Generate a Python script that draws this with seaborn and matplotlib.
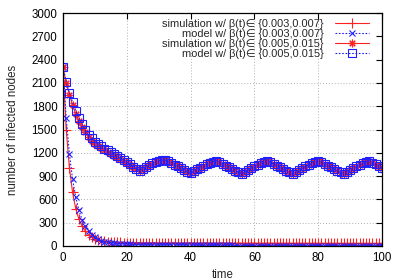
import matplotlib
matplotlib.use("Agg")
import matplotlib.pyplot as plt
import seaborn as sns
import numpy as np
import pandas as pd

time = list(range(0, 101))

sim_low = [2300, 1500, 1010, 690, 480, 345, 255, 190, 145, 112,
           92, 78, 68, 62, 57, 53, 50, 48, 47, 45,
           44, 44, 43, 43, 42, 42, 42, 41, 41, 41,
           40, 41, 40, 40, 39, 40, 39, 39, 40, 39,
           38, 39, 38, 39, 38, 38, 39, 38, 37, 38,
           38, 37, 38, 37, 37, 38, 37, 37, 36, 37,
           37, 36, 37, 36, 37, 36, 36, 37, 36, 36,
           35, 36, 36, 35, 36, 35, 36, 35, 35, 36,
           35, 35, 34, 35, 35, 34, 35, 34, 35, 34,
           34, 35, 34, 34, 35, 34, 34, 33, 34, 34, 34]

model_low = [2300, 1650, 1190, 860, 625, 460, 340, 255, 190, 145,
             112, 88, 70, 57, 47, 40, 34, 30, 27, 24,
             22, 20, 19, 18, 17, 16, 15, 15, 14, 13,
             13, 12, 12, 11, 11, 11, 10, 10, 10, 9,
             9, 9, 9, 8, 8, 8, 8, 8, 7, 7,
             7, 7, 7, 7, 6, 6, 6, 6, 6, 6,
             6, 6, 5, 5, 5, 5, 5, 5, 5, 5,
             5, 5, 5, 5, 4, 4, 4, 4, 4, 4,
             4, 4, 4, 4, 4, 4, 4, 4, 3, 3,
             3, 3, 3, 3, 3, 3, 3, 3, 3, 3, 3]

sim_high = [2300, 2100, 1950, 1815, 1705, 1610, 1530, 1465, 1405, 1355,
            1315, 1285, 1260, 1235, 1210, 1190, 1165, 1140, 1115, 1095,
            1075, 1045, 1015, 990, 968, 990, 1015, 1040, 1060, 1078,
            1092, 1102, 1105, 1085, 1065, 1045, 1025, 1000, 978, 955,
            935, 960, 985, 1008, 1030, 1050, 1068, 1085, 1098, 1078,
            1056, 1034, 1012, 990, 968, 945, 925, 950, 976, 1000,
            1022, 1044, 1064, 1082, 1098, 1077, 1055, 1033, 1011, 989,
            967, 945, 925, 950, 976, 1000, 1022, 1044, 1064, 1082,
            1098, 1077, 1055, 1033, 1011, 989, 967, 945, 925, 950,
            976, 1000, 1022, 1044, 1064, 1082, 1095, 1072, 1048, 1024, 1000]

model_high = [2300, 2110, 1975, 1850, 1740, 1645, 1565, 1495, 1435, 1385,
              1345, 1310, 1282, 1255, 1230, 1205, 1180, 1155, 1128, 1102,
              1078, 1050, 1022, 995, 972, 995, 1020, 1043, 1064, 1082,
              1096, 1106, 1108, 1088, 1068, 1047, 1026, 1003, 980, 958,
              938, 962, 987, 1010, 1032, 1052, 1070, 1087, 1100, 1080,
              1058, 1036, 1014, 992, 970, 947, 927, 952, 978, 1002,
              1024, 1046, 1066, 1084, 1100, 1079, 1057, 1035, 1013, 991,
              969, 947, 927, 952, 978, 1002, 1024, 1046, 1066, 1084,
              1100, 1079, 1057, 1035, 1013, 991, 969, 947, 927, 952,
              978, 1002, 1024, 1046, 1066, 1084, 1097, 1074, 1050, 1026, 1002]

labels = ["simulation w/ β(t)∈ {0.003,0.007}",
          "model w/ β(t)∈ {0.003,0.007}",
          "simulation w/ β(t)∈ {0.005,0.015}",
          "model w/ β(t)∈ {0.005,0.015}"]

x_ticks = [0, 20, 40, 60, 80, 100]
y_ticks = [0, 300, 600, 900, 1200, 1500, 1800, 2100, 2400, 2700, 3000]
y_grid = [300, 600, 900, 1200, 1500, 1800, 2100]

sns.set_style("white")
plt.rcParams['font.family'] = ['Liberation Sans', 'DejaVu Sans']
FS = 8.3
LFS = 7.9
plt.rcParams['font.size'] = FS

fig = plt.figure(figsize=(3.99, 2.80), dpi=100)
ax = fig.add_axes([63/399, 1 - 246/280, (382 - 63)/399, (246 - 13)/280])

RED = "#ff2020"
BLUE = "#2020ff"

styles = [
    dict(color=RED, marker="+", linestyle="-", markersize=6.5, markeredgewidth=0.8),
    dict(color=BLUE, marker="x", linestyle=(0, (1.5, 1.5)), markersize=5, markeredgewidth=0.8),
    dict(color=RED, marker=(8, 2, 0), linestyle="-", markersize=5.5, markeredgewidth=0.8),
    dict(color=BLUE, marker="s", linestyle=(0, (1.5, 1.5)), markersize=5.8, markeredgewidth=0.8,
         markerfacecolor="none"),
]
series = [sim_low, model_low, sim_high, model_high]

for vals, lab, st in zip(series, labels, styles):
    df = pd.DataFrame({"time": time, "value": vals})
    sns.lineplot(data=df, x="time", y="value", ax=ax, label=lab, linewidth=0.8,
                 markeredgecolor=st["color"], **st)

ax.set_xlim(0, 100)
ax.set_ylim(0, 3000)
ax.set_xticks(x_ticks)
ax.set_yticks(y_ticks)
for xv in x_ticks[1:-1]:
    ax.axvline(xv, color="#b0b0b0", linestyle=(0, (1, 2)), linewidth=0.7, zorder=0)
for yv in y_grid:
    ax.axhline(yv, color="#b0b0b0", linestyle=(0, (1, 2)), linewidth=0.7, zorder=0)

ax.tick_params(direction="in", length=4, width=0.8, top=True, right=True,
               labelsize=FS, pad=4, colors="black")
for sp in ax.spines.values():
    sp.set_color("black")
    sp.set_linewidth(0.9)

ax.set_xlabel("time", fontsize=FS, labelpad=4)
ax.set_ylabel("number of infected nodes", fontsize=FS, labelpad=9)

leg = ax.legend(loc="upper right", bbox_to_anchor=(0.958, 0.975), markerfirst=False,
                frameon=False, borderaxespad=0, borderpad=0, labelspacing=0.0,
                handlelength=3.1, handletextpad=1.0, fontsize=LFS)

fig.savefig("out.png", dpi=100)
